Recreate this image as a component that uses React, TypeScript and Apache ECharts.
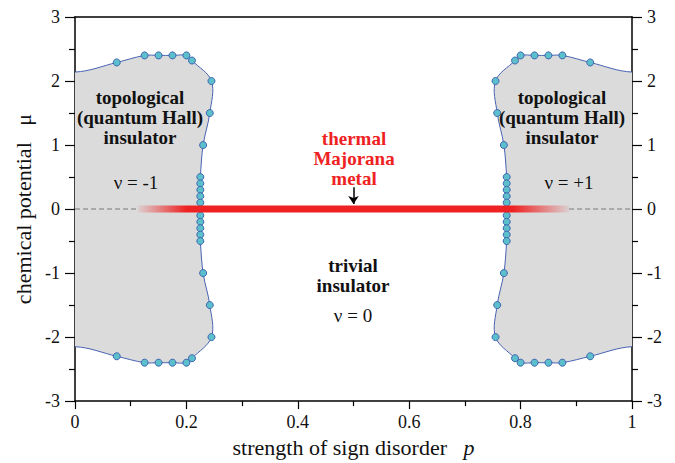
import React, { useEffect, useRef } from "react";
import * as echarts from "echarts";

// ---------- data ----------
const pMin = 0;
const pMax = 1;
const muMin = -3;
const muMax = 3;

// boundary of the left topological region (p, mu), from the top edge at p=0 to the bottom edge at p=0
const leftBoundary: [number, number][] = [
  [0, 2.14],
  [0.075, 2.29],
  [0.125, 2.4],
  [0.15, 2.4],
  [0.175, 2.4],
  [0.2, 2.4],
  [0.21, 2.32],
  [0.245, 2.0],
  [0.242, 1.5],
  [0.23, 1.0],
  [0.225, 0.5],
  [0.225, 0.4],
  [0.225, 0.3],
  [0.225, 0.2],
  [0.225, 0.1],
  [0.225, -0.1],
  [0.225, -0.2],
  [0.225, -0.3],
  [0.225, -0.4],
  [0.225, -0.5],
  [0.23, -1.0],
  [0.242, -1.5],
  [0.245, -2.0],
  [0.21, -2.33],
  [0.2, -2.4],
  [0.175, -2.4],
  [0.15, -2.4],
  [0.125, -2.4],
  [0.075, -2.3],
  [0, -2.15],
];

// boundary of the right topological region, from the top edge at p=1 to the bottom edge at p=1
const rightBoundary: [number, number][] = [
  [1, 2.14],
  [0.925, 2.29],
  [0.875, 2.4],
  [0.85, 2.4],
  [0.825, 2.4],
  [0.8, 2.4],
  [0.79, 2.32],
  [0.755, 2.0],
  [0.758, 1.5],
  [0.77, 1.0],
  [0.775, 0.5],
  [0.775, 0.4],
  [0.775, 0.3],
  [0.775, 0.2],
  [0.775, 0.1],
  [0.775, -0.1],
  [0.775, -0.2],
  [0.775, -0.3],
  [0.775, -0.4],
  [0.775, -0.5],
  [0.77, -1.0],
  [0.758, -1.5],
  [0.755, -2.0],
  [0.79, -2.33],
  [0.8, -2.4],
  [0.825, -2.4],
  [0.85, -2.4],
  [0.875, -2.4],
  [0.925, -2.3],
  [1, -2.15],
];

// thermal Majorana metal line at mu = 0: start, fully red, fade start, end
const metalStops = [0.113, 0.2, 0.787, 0.887];
const dashedLeft: [number, number][] = [
  [0, 0],
  [0.113, 0],
];
const dashedRight: [number, number][] = [
  [0.887, 0],
  [1, 0],
];
const arrowCoords: [number, number][] = [
  [0.5, 0.34],
  [0.5, 0.08],
];

const FONT = "'Liberation Serif', 'Times New Roman', serif";
const RED = "#ee2222";

export default function App() {
  const ref = useRef<HTMLDivElement>(null);

  useEffect(() => {
    if (!ref.current) return;
    const chart = echarts.init(ref.current, undefined, { renderer: "svg" });

    const regionSeries = (boundary: [number, number][], outerX: number) => ({
      type: "custom",
      coordinateSystem: "cartesian2d",
      clip: true,
      silent: true,
      z: 1,
      data: [0],
      renderItem: (_params: any, api: any) => {
        const first = boundary[0];
        const last = boundary[boundary.length - 1];
        const pts = boundary.map((p) => api.coord(p));
        pts.push(api.coord([outerX, last[1]]));
        pts.push(api.coord([outerX, first[1]]));
        return {
          type: "polygon",
          shape: { points: pts, smooth: 0.35 },
          style: { fill: "#dbdbdb", stroke: "#4863b5", lineWidth: 1 },
        };
      },
    });

    const markerSeries = (boundary: [number, number][]) => ({
      type: "scatter",
      data: boundary.slice(1, -1),
      symbol: "circle",
      symbolSize: 7,
      z: 3,
      silent: true,
      itemStyle: { color: "#5cbfcc", borderColor: "#3f66b0", borderWidth: 1, opacity: 1 },
    });

    const dashed = (data: [number, number][]) => ({
      type: "line",
      data,
      symbol: "none",
      silent: true,
      z: 2,
      lineStyle: { color: "#9a9a9a", width: 1.5, type: [5, 3] },
    });

    const [mStart, mFull, mFade, mEnd] = metalStops;
    const len = mEnd - mStart;

    const axisLine = { show: true, onZero: false, lineStyle: { color: "#000", width: 1.5 } };

    const option: any = {
      animation: false,
      backgroundColor: "#fff",
      grid: { left: 75, right: 43, top: 17, bottom: 56, containLabel: false },
      xAxis: [
        {
          type: "value",
          min: pMin,
          max: pMax,
          interval: 0.2,
          position: "bottom",
          axisLine,
          axisTick: { show: true, inside: false, length: 8, lineStyle: { color: "#000", width: 1.2 } },
          minorTick: { show: true, splitNumber: 2, length: 5, lineStyle: { color: "#000", width: 1.2 } },
          splitLine: { show: false },
          axisLabel: { color: "#111", fontFamily: FONT, fontSize: 18, margin: 12 },
          name: "{t|strength of sign disorder   }{i|p}",
          nameLocation: "middle",
          nameGap: 33,
          nameTextStyle: {
            rich: {
              t: { fontFamily: FONT, fontSize: 22, color: "#111" },
              i: { fontFamily: FONT, fontSize: 22, color: "#111", fontStyle: "italic" },
            },
          },
        },
        {
          type: "value",
          min: pMin,
          max: pMax,
          position: "top",
          axisLine,
          axisTick: { show: false },
          axisLabel: { show: false },
          splitLine: { show: false },
        },
      ],
      yAxis: [
        {
          type: "value",
          min: muMin,
          max: muMax,
          interval: 1,
          position: "left",
          axisLine,
          axisTick: { show: true, length: 10, lineStyle: { color: "#000", width: 1.2 } },
          minorTick: { show: true, splitNumber: 2, length: 6, lineStyle: { color: "#000", width: 1.2 } },
          splitLine: { show: false },
          axisLabel: { color: "#111", fontFamily: FONT, fontSize: 18, margin: 15 },
          name: "chemical potential   μ",
          nameLocation: "middle",
          nameGap: 40,
          nameRotate: 90,
          nameTextStyle: { fontFamily: FONT, fontSize: 22, color: "#111" },
        },
        {
          type: "value",
          min: muMin,
          max: muMax,
          interval: 1,
          position: "right",
          axisLine,
          axisTick: { show: true, length: 10, lineStyle: { color: "#000", width: 1.2 } },
          minorTick: { show: true, splitNumber: 2, length: 6, lineStyle: { color: "#000", width: 1.2 } },
          splitLine: { show: false },
          axisLabel: { color: "#111", fontFamily: FONT, fontSize: 18, margin: 15 },
        },
      ],
      series: [
        regionSeries(leftBoundary, -0.3),
        regionSeries(rightBoundary, 1.3),
        dashed(dashedLeft),
        dashed(dashedRight),
        markerSeries(leftBoundary),
        markerSeries(rightBoundary),
        {
          type: "custom",
          coordinateSystem: "cartesian2d",
          silent: true,
          z: 4,
          data: [0],
          renderItem: (_params: any, api: any) => {
            const a = api.coord([mStart, 0]);
            const b = api.coord([mEnd, 0]);
            return {
              type: "rect",
              shape: { x: a[0], y: a[1] - 3.5, width: b[0] - a[0], height: 7 },
              style: {
                fill: new echarts.graphic.LinearGradient(0, 0, 1, 0, [
                  { offset: 0, color: "rgba(238,34,34,0.06)" },
                  { offset: (mFull - mStart) / len, color: RED },
                  { offset: (mFade - mStart) / len, color: RED },
                  { offset: 1, color: "rgba(238,34,34,0.06)" },
                ]),
              },
            };
          },
        },
        {
          type: "lines",
          coordinateSystem: "cartesian2d",
          silent: true,
          z: 5,
          symbol: ["none", "arrow"],
          symbolSize: 8,
          lineStyle: { color: "#000", width: 1.5, opacity: 1 },
          data: [{ coords: arrowCoords }],
        },
      ],
      graphic: [
        {
          type: "text",
          x: 140,
          y: 117,
          style: {
            text: "topological\n(quantum Hall)\ninsulator",
            font: `bold 19px ${FONT}`,
            fill: "#111",
            align: "center",
            verticalAlign: "middle",
            lineHeight: 20,
          },
          z: 10,
        },
        {
          type: "text",
          x: 562,
          y: 117,
          style: {
            text: "topological\n(quantum Hall)\ninsulator",
            font: `bold 19px ${FONT}`,
            fill: "#111",
            align: "center",
            verticalAlign: "middle",
            lineHeight: 20,
          },
          z: 10,
        },
        {
          type: "text",
          x: 136,
          y: 182,
          style: { text: "ν = -1", font: `19px ${FONT}`, fill: "#111", align: "center", verticalAlign: "middle" },
          z: 10,
        },
        {
          type: "text",
          x: 569,
          y: 182,
          style: { text: "ν = +1", font: `19px ${FONT}`, fill: "#111", align: "center", verticalAlign: "middle" },
          z: 10,
        },
        {
          type: "text",
          x: 354,
          y: 158,
          style: {
            text: "thermal\nMajorana\nmetal",
            font: `bold 19px ${FONT}`,
            fill: RED,
            align: "center",
            verticalAlign: "middle",
            lineHeight: 20,
          },
          z: 10,
        },
        {
          type: "text",
          x: 353,
          y: 275,
          style: {
            text: "trivial\ninsulator",
            font: `bold 19px ${FONT}`,
            fill: "#111",
            align: "center",
            verticalAlign: "middle",
            lineHeight: 20,
          },
          z: 10,
        },
        {
          type: "text",
          x: 353,
          y: 315,
          style: { text: "ν = 0", font: `19px ${FONT}`, fill: "#111", align: "center", verticalAlign: "middle" },
          z: 10,
        },
      ],
    };

    chart.setOption(option);
    return () => chart.dispose();
  }, []);

  return (
    <div
      ref={ref}
      style={{ position: "fixed", left: 0, top: 0, width: 675, height: 463, background: "#fff" }}
    />
  );
}
